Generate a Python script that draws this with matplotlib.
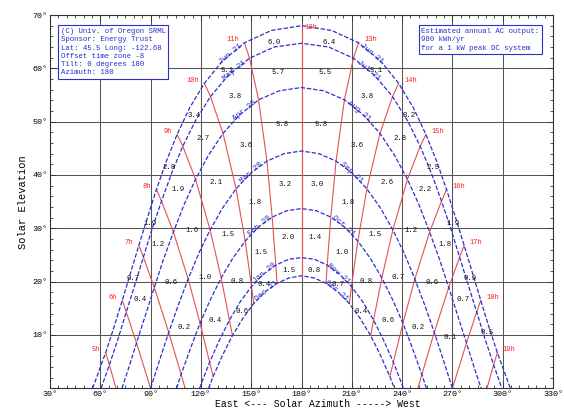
import numpy as np
import matplotlib
matplotlib.use("Agg")
import matplotlib.pyplot as plt
from matplotlib.ticker import MultipleLocator

plt.rcParams['font.family'] = ['Liberation Mono', 'DejaVu Sans Mono']

nan = np.nan

# ---------------- data ----------------
date_names_left = ["Jun 21", "May 21", "Apr 20", "Mar 20", "Feb 20", "Jan 20", "Dec 21"]
date_names_right = ["Jun 21", "Jul 21", "Aug 21", "Sep 21", "Oct 21", "Nov 21", "Dec 21"]

jun_az = [55.4, 58.0, 63.2, 68.2, 73.1, 78.0, 83.0, 88.1, 93.5, 99.3, 105.8, 113.3, 122.1, 132.9, 146.0, 162.0, 180.0,
          198.0, 214.0, 227.1, 237.9, 246.7, 254.2, 260.7, 266.5, 271.9, 277.0, 282.0, 286.9, 291.8, 296.8, 302.0, 304.6]
jun_alt = [0.0, 2.2, 6.7, 11.5, 16.5, 21.6, 26.8, 32.0, 37.3, 42.5, 47.6, 52.6, 57.2, 61.4, 64.8, 67.1, 68.0,
           67.1, 64.8, 61.4, 57.2, 52.6, 47.6, 42.5, 37.3, 32.0, 26.8, 21.6, 16.5, 11.5, 6.7, 2.2, 0.0]

may_az = [60.5, 65.4, 70.5, 75.5, 80.6, 85.7, 90.9, 96.5, 102.5, 109.2, 116.8, 125.7, 136.4, 149.0, 163.8, 180.0,
          196.2, 211.0, 223.6, 234.3, 243.2, 250.8, 257.5, 263.5, 269.1, 274.3, 279.4, 284.5, 289.5, 294.6, 299.5]
may_alt = [0.0, 4.4, 9.2, 14.3, 19.4, 24.6, 29.9, 35.1, 40.3, 45.4, 50.2, 54.7, 58.7, 61.9, 64.0, 64.7,
           64.0, 61.9, 58.7, 54.7, 50.2, 45.4, 40.3, 35.1, 29.9, 24.6, 19.4, 14.3, 9.2, 4.4, 0.0]

apr_az = [72.9, 76.4, 81.6, 86.9, 92.2, 97.7, 103.6, 109.9, 116.8, 124.5, 133.2, 143.2, 154.4, 166.9, 180.0,
          193.1, 205.6, 216.8, 226.8, 235.5, 243.2, 250.1, 256.4, 262.3, 267.8, 273.1, 278.4, 283.6, 287.1]
apr_alt = [0.0, 3.3, 8.5, 13.7, 18.9, 24.2, 29.3, 34.4, 39.2, 43.7, 47.8, 51.3, 54.1, 55.8, 56.4,
           55.8, 54.1, 51.3, 47.8, 43.7, 39.2, 34.4, 29.3, 24.2, 18.9, 13.7, 8.5, 3.3, 0.0]

mar_az = [90.0, 95.4, 100.8, 106.5, 112.4, 118.7, 125.5, 132.9, 141.0, 149.9, 159.4, 169.5, 180.0,
          190.5, 200.6, 210.1, 219.0, 227.1, 234.5, 241.3, 247.6, 253.5, 259.2, 264.6, 270.0]
mar_alt = [0.0, 5.3, 10.5, 15.6, 20.5, 25.3, 29.7, 33.8, 37.4, 40.4, 42.6, 44.0, 44.5,
           44.0, 42.6, 40.4, 37.4, 33.8, 29.7, 25.3, 20.5, 15.6, 10.5, 5.3, 0.0]

feb_az = [105.5, 108.2, 113.8, 119.5, 125.6, 132.1, 139.0, 146.4, 154.2, 162.5, 171.2, 180.0,
          188.8, 197.5, 205.8, 213.6, 221.0, 227.9, 234.4, 240.5, 246.2, 251.8, 254.5]
feb_alt = [0.0, 2.6, 7.5, 12.2, 16.6, 20.7, 24.4, 27.6, 30.2, 32.1, 33.3, 33.7,
           33.3, 32.1, 30.2, 27.6, 24.4, 20.7, 16.6, 12.2, 7.5, 2.6, 0.0]

jan_az = [119.2, 119.8, 125.2, 131.0, 137.0, 143.4, 150.2, 157.3, 164.7, 172.3, 180.0,
          187.7, 195.3, 202.7, 209.8, 216.6, 223.0, 229.0, 234.8, 240.2, 240.8]
jan_alt = [0.0, 0.5, 4.9, 9.0, 12.8, 16.2, 19.1, 21.4, 23.1, 24.2, 24.5,
           24.2, 23.1, 21.4, 19.1, 16.2, 12.8, 9.0, 4.9, 0.5, 0.0]

dec_az = [124.6, 127.3, 132.9, 138.8, 145.0, 151.5, 158.3, 165.4, 172.6, 180.0,
          187.4, 194.6, 201.7, 208.5, 215.0, 221.2, 227.1, 232.7, 235.4]
dec_alt = [0.0, 2.2, 6.2, 9.9, 13.1, 15.9, 18.1, 19.7, 20.7, 21.1,
           20.7, 19.7, 18.1, 15.9, 13.1, 9.9, 6.2, 2.2, 0.0]

date_az = [jun_az, may_az, apr_az, mar_az, feb_az, jan_az, dec_az]
date_alt = [jun_alt, may_alt, apr_alt, mar_alt, feb_alt, jan_alt, dec_alt]

# hour lines (solar time): points on the Jun..Dec curves, plus the horizon end
hour_names = ["5h", "6h", "7h", "8h", "9h", "10h", "11h", "12h",
              "13h", "14h", "15h", "16h", "17h", "18h", "19h"]
hour_az = [
    [63.2, 65.4, nan, nan, nan, nan, nan],
    [73.1, 75.5, 81.6, 90.0, nan, nan, nan],
    [83.0, 85.7, 92.2, 100.8, 108.2, nan, nan],
    [93.5, 96.5, 103.6, 112.4, 119.5, 125.2, 127.3],
    [105.8, 109.2, 116.8, 125.5, 132.1, 137.0, 138.8],
    [122.1, 125.7, 133.2, 141.0, 146.4, 150.2, 151.5],
    [146.0, 149.0, 154.4, 159.4, 162.5, 164.7, 165.4],
    [180.0, 180.0, 180.0, 180.0, 180.0, 180.0, 180.0],
    [214.0, 211.0, 205.6, 200.6, 197.5, 195.3, 194.6],
    [237.9, 234.3, 226.8, 219.0, 213.6, 209.8, 208.5],
    [254.2, 250.8, 243.2, 234.5, 227.9, 223.0, 221.2],
    [266.5, 263.5, 256.4, 247.6, 240.5, 234.8, 232.7],
    [277.0, 274.3, 267.8, 259.2, 251.8, nan, nan],
    [286.9, 284.5, 278.4, 270.0, nan, nan, nan],
    [296.8, 294.6, nan, nan, nan, nan, nan],
]
hour_alt = [
    [6.7, 4.4, nan, nan, nan, nan, nan],
    [16.5, 14.3, 8.5, 0.0, nan, nan, nan],
    [26.8, 24.6, 18.9, 10.5, 2.6, nan, nan],
    [37.3, 35.1, 29.3, 20.5, 12.2, 4.9, 2.2],
    [47.6, 45.4, 39.2, 29.7, 20.7, 12.8, 9.9],
    [57.2, 54.7, 47.8, 37.4, 27.6, 19.1, 15.9],
    [64.8, 61.9, 54.1, 42.6, 32.1, 23.1, 19.7],
    [68.0, 64.7, 56.4, 44.5, 33.7, 24.5, 21.1],
    [64.8, 61.9, 54.1, 42.6, 32.1, 23.1, 19.7],
    [57.2, 54.7, 47.8, 37.4, 27.6, 19.1, 15.9],
    [47.6, 45.4, 39.2, 29.7, 20.7, 12.8, 9.9],
    [37.3, 35.1, 29.3, 20.5, 12.2, 4.9, 2.2],
    [26.8, 24.6, 18.9, 10.5, 2.6, nan, nan],
    [16.5, 14.3, 8.5, 0.0, nan, nan, nan],
    [6.7, 4.4, nan, nan, nan, nan, nan],
]
hour_horizon_az = [69.4, nan, 110.6, nan, nan, nan, nan, nan, nan, nan, nan, nan, 249.4, nan, 290.6]

# numbers in cells: rows = bands between successive date curves (Jun/May ... Jan/Dec),
# columns = hour intervals 5-6 ... 18-19
cell_values = [
    [None, 0.7, 1.9, 2.8, 3.4, 5.1, 6.0, 6.4, 5.1, 3.2, 2.5, 1.9, 0.9, 0.5],
    [None, 0.4, 1.2, 1.9, 2.7, 3.8, 5.7, 5.5, 3.8, 2.8, 2.2, 1.8, 0.7, None],
    [None, None, 0.6, 1.6, 2.1, 3.6, 5.8, 5.8, 3.6, 2.6, 1.2, 0.6, 0.1, None],
    [None, None, 0.2, 1.0, 1.5, 1.8, 3.2, 3.0, 1.8, 1.5, 0.7, 0.2, None, None],
    [None, None, None, 0.4, 0.8, 1.5, 2.0, 1.4, 1.0, 0.8, 0.6, None, None, None],
    [None, None, None, None, 0.6, 0.4, 1.5, 0.8, 0.7, 0.4, None, None, None, None],
]

x_ticks = [30, 60, 90, 120, 150, 180, 210, 240, 270, 300, 330]
x_tick_labels = ["30°", "60°", "90°", "120°", "150°", "180°", "210°", "240°", "270°", "300°", "330°"]
y_ticks = [10, 20, 30, 40, 50, 60, 70]
y_tick_labels = ["10°", "20°", "30°", "40°", "50°", "60°", "70°"]

info_left = ["(C) Univ. of Oregon SRML", "Sponsor: Energy Trust", "Lat: 45.5 Long: -122.68",
             "Offset time zone -8", "Tilt: 0 degrees 180", "Azimuth: 180"]
info_right = ["Estimated annual AC output:", "980 kWh/yr", "for a 1 kW peak DC system"]

# ---------------- drawing ----------------
BLUE = "#2e2ecc"
RED = "#e25252"
fig = plt.figure(figsize=(5.64, 4.08), dpi=100)
ax = fig.add_axes([50 / 564, (408 - 388.3) / 408, 503 / 564, 373.3 / 408])
ax.set_xlim(30, 330)
ax.set_ylim(0, 70)
ax.set_xticks(x_ticks)
ax.set_xticklabels(x_tick_labels)
ax.set_yticks(y_ticks)
ax.set_yticklabels(y_tick_labels)
ax.xaxis.set_minor_locator(MultipleLocator(5))
ax.yaxis.set_minor_locator(MultipleLocator(2))
ax.tick_params(which='both', direction='in', top=True, right=True, labelsize=6, pad=2,
               color='#333333', width=0.6)
ax.tick_params(which='major', length=4)
ax.tick_params(which='minor', length=2)
ax.grid(True, which='major', color='#555555', lw=0.75)
ax.set_axisbelow(True)
for sp in ax.spines.values():
    sp.set_linewidth(0.8)
    sp.set_color('#333333')

# hour lines
for i in range(len(hour_names)):
    xs = [a for a, e in zip(hour_az[i], hour_alt[i]) if not np.isnan(a)]
    ys = [e for a, e in zip(hour_az[i], hour_alt[i]) if not np.isnan(a)]
    if not np.isnan(hour_horizon_az[i]):
        xs.append(hour_horizon_az[i])
        ys.append(0.0)
    ax.plot(xs, ys, color=RED, lw=0.8, zorder=2)

# date curves
for az, alt in zip(date_az, date_alt):
    ax.plot(az, alt, color=BLUE, lw=0.9, ls=(0, (3.5, 1.5)), zorder=3)

# hour labels at top end of each hour line
for i, name in enumerate(hour_names):
    a, e = hour_az[i][0], hour_alt[i][0]
    if a < 179:
        ax.annotate(name, (a, e), xytext=(-4, 2), textcoords='offset points', ha='right',
                    va='center', fontsize=5, color='#ff1a1a', zorder=4)
    elif a < 181:
        ax.annotate(name, (a, e), xytext=(2, -1), textcoords='offset points', ha='left',
                    va='center', fontsize=5, color='#ff1a1a', zorder=4)
    else:
        ax.annotate(name, (a, e), xytext=(4, 2), textcoords='offset points', ha='left',
                    va='center', fontsize=5, color='#ff1a1a', zorder=4)

# numbers in cells
for b in range(len(cell_values)):
    for c in range(len(cell_values[b])):
        v = cell_values[b][c]
        if v is None:
            continue
        pts = [(hour_az[c][b], hour_alt[c][b]), (hour_az[c][b + 1], hour_alt[c][b + 1]),
               (hour_az[c + 1][b], hour_alt[c + 1][b]), (hour_az[c + 1][b + 1], hour_alt[c + 1][b + 1])]
        pts = [p for p in pts if not np.isnan(p[0])]
        cx = np.mean([p[0] for p in pts])
        cy = np.mean([p[1] for p in pts])
        ax.text(cx, cy, f"{v:.1f}", ha='center', va='center', fontsize=5.3, color='#111111', zorder=4)

# date labels along curves
fig.canvas.draw()
left_pos = [138, 140, 146, 150, 155, 158, 159]
for k in range(len(date_az)):
    az = np.array(date_az[k])
    alt = np.array(date_alt[k])
    for a0, name in ((left_pos[k], date_names_left[k]), (360 - left_pos[k], date_names_right[k])):
        e0 = np.interp(a0, az, alt)
        p1 = ax.transData.transform((a0 - 3, np.interp(a0 - 3, az, alt)))
        p2 = ax.transData.transform((a0 + 3, np.interp(a0 + 3, az, alt)))
        ang = np.degrees(np.arctan2(p2[1] - p1[1], p2[0] - p1[0]))
        ax.text(a0, e0, name, rotation=ang, rotation_mode='anchor', ha='center', va='center',
                fontsize=5.6, color=BLUE, zorder=4)

# info boxes
ax.text(0.021, 0.965, "\n".join(info_left), transform=ax.transAxes, ha='left', va='top',
        fontsize=5.3, color=BLUE, linespacing=1.25, zorder=6,
        bbox=dict(boxstyle='square,pad=0.35', fc='white', ec=BLUE, lw=0.8))
ax.text(0.738, 0.965, "\n".join(info_right), transform=ax.transAxes, ha='left', va='top',
        fontsize=5.3, color=BLUE, linespacing=1.25, zorder=6,
        bbox=dict(boxstyle='square,pad=0.35', fc='white', ec=BLUE, lw=0.8))

ax.set_xlabel("East <--- Solar Azimuth -----> West", fontsize=7, labelpad=1)
ax.xaxis.set_label_coords((318 - 50) / 503, -0.028)
ax.set_ylabel("Solar Elevation", fontsize=7.5, labelpad=3)

fig.savefig("out.png", dpi=100)
